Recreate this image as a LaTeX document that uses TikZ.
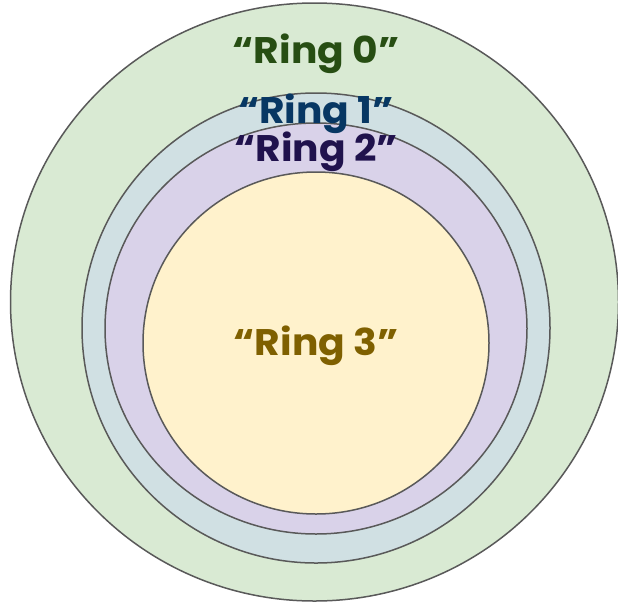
\documentclass[tikz,border=0pt]{standalone}
\usepackage{fontspec}
\setmainfont{Poppins}[BoldFont={Poppins Bold}]
\usetikzlibrary{shapes.geometric}
\definecolor{fillA}{HTML}{D9EAD3}
\definecolor{fillB}{HTML}{D0E0E3}
\definecolor{fillC}{HTML}{D9D2E9}
\definecolor{fillD}{HTML}{FFF2CC}
\definecolor{textA}{HTML}{274E13}
\definecolor{textB}{HTML}{073763}
\definecolor{textC}{HTML}{20124D}
\definecolor{textD}{HTML}{7F6000}
\definecolor{edgegray}{HTML}{595959}
\tikzset{
  ringshape/.style={draw=edgegray, line width=1.5pt},
  ringlabel/.style={font=\fontsize{37}{40}\selectfont\bfseries, inner sep=0pt, anchor=base, transform shape, xscale=1.06}
}
\begin{document}
\begin{tikzpicture}[x=1pt,y=-1pt]
\useasboundingbox (0,0) rectangle (618,603);
\draw[ringshape, fill=fillA] (314.5,302) ellipse [x radius=304, y radius=299];
\draw[ringshape, fill=fillB] (316,328) ellipse [x radius=234, y radius=235];
\draw[ringshape, fill=fillC] (316,328.5) ellipse [x radius=211, y radius=205.5];
\draw[ringshape, fill=fillD] (316,343) ellipse [x radius=173, y radius=171];
\node[ringlabel, text=textA] (r0) at (316,63) {“Ring 0”};
\node[ringlabel, text=textB] (r1) at (316,123) {“Ring 1”};
\node[ringlabel, text=textC] (r2) at (316,161) {“Ring 2”};
\node[ringlabel, text=textD] (r3) at (316,355) {“Ring 3”};
\end{tikzpicture}
\end{document}
